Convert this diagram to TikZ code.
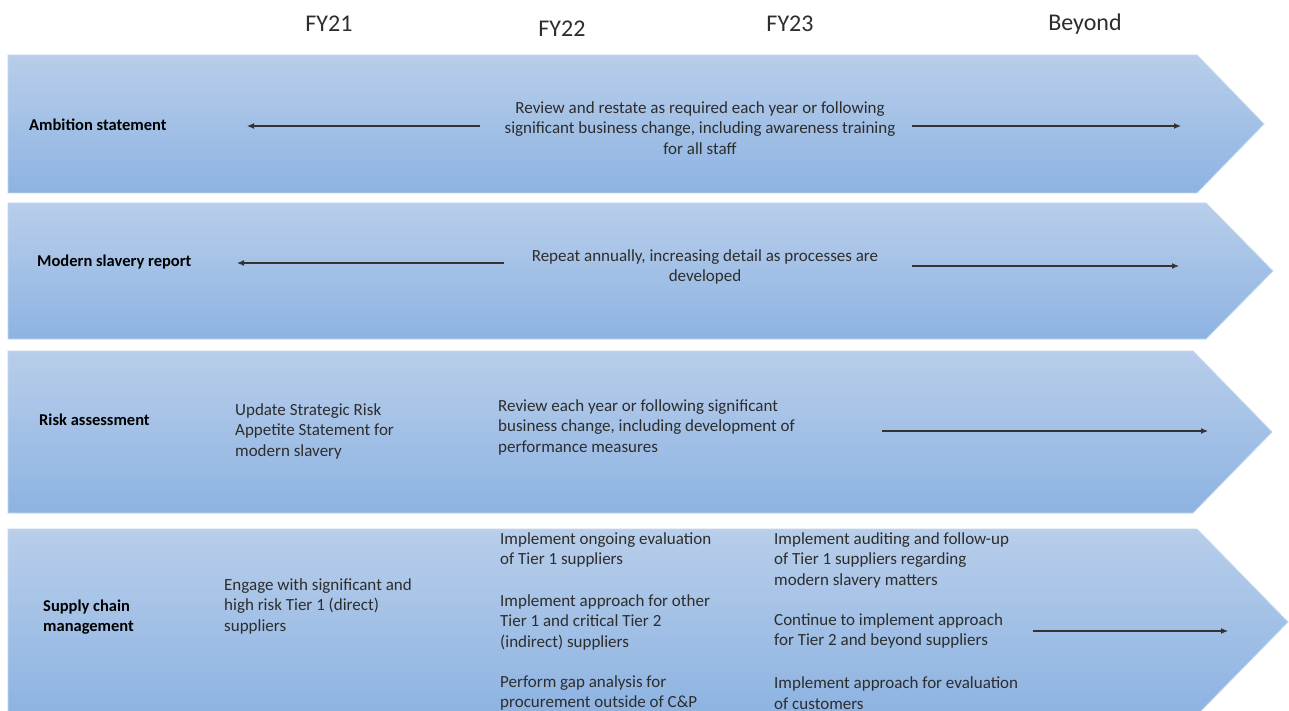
\documentclass[tikz,border=0pt]{standalone}
\usepackage{fontspec}
\setmainfont{Carlito}
\usepackage{xcolor}
\usetikzlibrary{arrows.meta}

\definecolor{bandtop}{RGB}{184,206,234}
\definecolor{bandbot}{RGB}{141,179,226}
\definecolor{bandedge}{RGB}{196,215,239}
\definecolor{txtgray}{RGB}{45,45,45}

\begin{document}
\begin{tikzpicture}[x=1pt,y=-1pt,
	band/.style={top color=bandtop,bottom color=bandbot,draw=bandedge,line width=0.8pt},
	yr/.style={inner sep=0pt,text=txtgray,font=\fontsize{24}{28}\selectfont},
	lbl/.style={inner sep=0pt,anchor=west,align=left,text=black,font=\fontsize{16.5}{20.5}\selectfont\bfseries},
	txt/.style={inner sep=0pt,anchor=west,align=left,text=txtgray,font=\fontsize{17}{20.5}\selectfont},
	ctxt/.style={txt,anchor=center,align=center},
	tl/.style={-{Latex[length=7pt,width=6pt]},line width=1.2pt,black!80}]
	\clip (0,0) rectangle (1289,711);
	\fill[white] (0,0) rectangle (1289,711);

	% years
	\node[yr] (fy21) at (329,24) {FY21};
	\node[yr] (fy22) at (562,29) {FY22};
	\node[yr] (fy23) at (790,24) {FY23};
	\node[yr] (bey) at (1085,24) {Beyond};

	% bands
	\shade[band] (8,55) -- (1197,55) -- (1264,124) -- (1197,193) -- (8,193) -- cycle;
	\shade[band] (8,203) -- (1206,203) -- (1273,271) -- (1206,339) -- (8,339) -- cycle;
	\shade[band] (8,351) -- (1193,351) -- (1272,432) -- (1193,513) -- (8,513) -- cycle;
	\shade[band] (8,529) -- (1197,529) -- (1288,622) -- (1197,715) -- (8,715) -- cycle;

	% Ambition statement
	\node[lbl] (amb) at (29,125) {Ambition statement};
	\node[ctxt] (ambtxt) at (700,128) {Review and restate as required each year or following\\significant business change, including awareness training\\for all staff};
	\coordinate (amb1) at (480,126);
	\coordinate (amb2) at (247,126);
	\coordinate (amb3) at (912,126);
	\coordinate (amb4) at (1181,126);
	\draw[tl] (amb1) -- (amb2);
	\draw[tl] (amb3) -- (amb4);

	% Modern slavery report
	\node[lbl] (msr) at (37,262) {Modern slavery report};
	\node[ctxt] (msrtxt) at (705,267) {Repeat annually, increasing detail as processes are\\developed};
	\coordinate (msr1) at (504,263);
	\coordinate (msr2) at (237,263);
	\coordinate (msr3) at (912,266);
	\coordinate (msr4) at (1179,266);
	\draw[tl] (msr1) -- (msr2);
	\draw[tl] (msr3) -- (msr4);

	% Risk assessment
	\node[lbl] (risk) at (39,420) {Risk assessment};
	\node[txt] (upd) at (235,431) {Update Strategic Risk\\Appetite Statement for\\modern slavery};
	\node[txt] (rev) at (498,427) {Review each year or following significant\\business change, including development of\\performance measures};
	\coordinate (risk1) at (882,431);
	\coordinate (risk2) at (1208,431);
	\draw[tl] (risk1) -- (risk2);

	% Supply chain management
	\node[lbl] (scm) at (43,617) {Supply chain\\management};
	\node[txt] (eng) at (224,606) {Engage with significant and\\high risk Tier 1 (direct)\\suppliers};
	\node[txt] (ev1) at (500,550) {Implement ongoing evaluation\\of Tier 1 suppliers};
	\node[txt] (ap1) at (500,622) {Implement approach for other\\Tier 1 and critical Tier 2\\(indirect) suppliers};
	\node[txt] (gap) at (500,693) {Perform gap analysis for\\procurement outside of C\&P};
	\node[txt] (aud) at (774,560) {Implement auditing and follow-up\\of Tier 1 suppliers regarding\\modern slavery matters};
	\node[txt] (ap2) at (774,631) {Continue to implement approach\\for Tier 2 and beyond suppliers};
	\node[txt] (cus) at (774,693) {Implement approach for evaluation\\of customers};
	\coordinate (scm1) at (1033,631);
	\coordinate (scm2) at (1228,631);
	\draw[tl] (scm1) -- (scm2);

\end{tikzpicture}
\end{document}
